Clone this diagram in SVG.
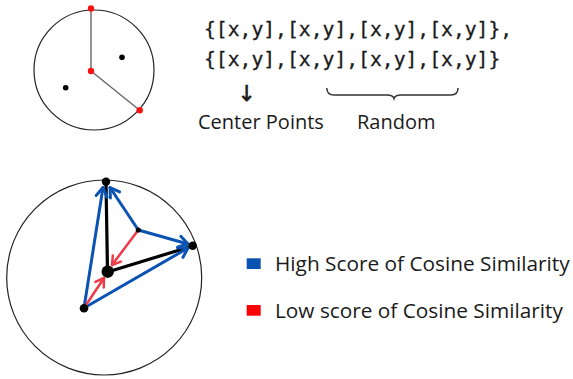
<svg xmlns="http://www.w3.org/2000/svg" width="573" height="379" viewBox="0 0 573 379">
<style>
.circ{fill:none;stroke:#222;stroke-width:1.2}
.spoke{stroke:#666;stroke-width:1.4;fill:none}
.mono{font-family:"DejaVu Sans Mono","Liberation Mono",monospace;font-size:19.7px;fill:#1a1a1a;stroke:#1a1a1a;stroke-width:0.3}
.lbl{font-family:"Open Sans","Noto Sans",sans-serif;font-size:20px;fill:#1a1a1a}
.leg{font-family:"Open Sans","Noto Sans",sans-serif;font-size:20.8px;fill:#1a1a1a}
.blue{stroke:#0b53b3;stroke-width:3;fill:none;stroke-linecap:round}
.red{stroke:#ef3a48;stroke-width:2.5;fill:none;stroke-linecap:round}
.blk{stroke:#000;stroke-width:3.2;fill:none;stroke-linecap:round}
.rdot{fill:#ff1010}
.bdot{fill:#000}
</style>
<defs>
<marker id="ab" markerUnits="userSpaceOnUse" viewBox="-12 -8 14 16" refX="0" refY="0" markerWidth="14" markerHeight="16" orient="auto">
<path d="M-9,-5.5 L0,0 L-9,5.5" fill="none" stroke="#0b53b3" stroke-width="3" stroke-linecap="round" stroke-linejoin="round"/>
</marker>
<marker id="ar" markerUnits="userSpaceOnUse" viewBox="-12 -8 14 16" refX="0" refY="0" markerWidth="14" markerHeight="16" orient="auto">
<path d="M-8,-5 L0,0 L-8,5" fill="none" stroke="#ef3a48" stroke-width="2.5" stroke-linecap="round" stroke-linejoin="round"/>
</marker>
</defs>

<g id="top-circle">
<circle class="circ" cx="94" cy="70" r="60"/>
<line class="spoke" x1="91" y1="8.5" x2="91" y2="71"/>
<line class="spoke" x1="91" y1="71" x2="139.7" y2="110.3"/>
<circle class="rdot" cx="91" cy="8.5" r="3.2"/>
<circle class="rdot" cx="91" cy="71" r="3.2"/>
<circle class="rdot" cx="139.7" cy="110.3" r="3.2"/>
<circle class="bdot" cx="122" cy="57.3" r="2.8"/>
<circle class="bdot" cx="65.7" cy="87.7" r="2.8"/>
</g>

<g id="code-text">
<text class="mono" x="204" y="35.5">{[x,y],[x,y],[x,y],[x,y]},</text>
<text class="mono" x="204" y="65.5">{[x,y],[x,y],[x,y],[x,y]}</text>
</g>

<g id="center-points">
<text x="246.7" y="101" text-anchor="middle" style="font-family:'DejaVu Sans',sans-serif;font-size:22px;fill:#1a1a1a;stroke:#1a1a1a;stroke-width:0.6">↓</text>
<text class="lbl" x="198" y="129">Center Points</text>
</g>

<g id="random">
<path d="M326.7,88 Q327,95 334,95 L387,95 Q393,95 394,98.5 Q395,95 401,95 L451,95 Q458,95 458,88" fill="none" stroke="#333" stroke-width="1.5"/>
<text class="lbl" x="357" y="129">Random</text>
</g>

<g id="bottom-circle">
<circle class="circ" cx="104.2" cy="277.5" r="97.5"/>
</g>

<g id="connectors">
<line class="blk" x1="106" y1="182" x2="107.5" y2="272"/>
<line class="blk" x1="107.5" y1="272" x2="192.7" y2="246"/>
<line class="blue" x1="84" y1="308" x2="103" y2="187.5" marker-end="url(#ab)"/>
<line class="blue" x1="138.3" y1="230" x2="110" y2="187.5" marker-end="url(#ab)"/>
<line class="blue" x1="84" y1="308" x2="188" y2="248" marker-end="url(#ab)"/>
<line class="blue" x1="138.3" y1="230" x2="188" y2="244" marker-end="url(#ab)"/>
<line class="red" x1="138.3" y1="230" x2="112" y2="265" marker-end="url(#ar)"/>
<line class="red" x1="84" y1="308" x2="104" y2="278" marker-end="url(#ar)"/>
</g>

<g id="points">
<circle class="bdot" cx="106" cy="181.7" r="4.2"/>
<circle class="bdot" cx="192.7" cy="245.7" r="4.2"/>
<circle class="bdot" cx="107.7" cy="271.7" r="6.2"/>
<circle class="bdot" cx="84" cy="308.3" r="4.3"/>
<circle class="bdot" cx="138.3" cy="230" r="2.6"/>
</g>

<g id="legend">
<rect x="246.7" y="258.3" width="14" height="10.7" fill="#0b53b3"/>
<text class="leg" x="275" y="271">High Score of Cosine Similarity</text>
<rect x="246.7" y="305" width="14" height="10.7" fill="#ff0000"/>
<text class="leg" x="275" y="318">Low score of Cosine Similarity</text>
</g>
</svg>
